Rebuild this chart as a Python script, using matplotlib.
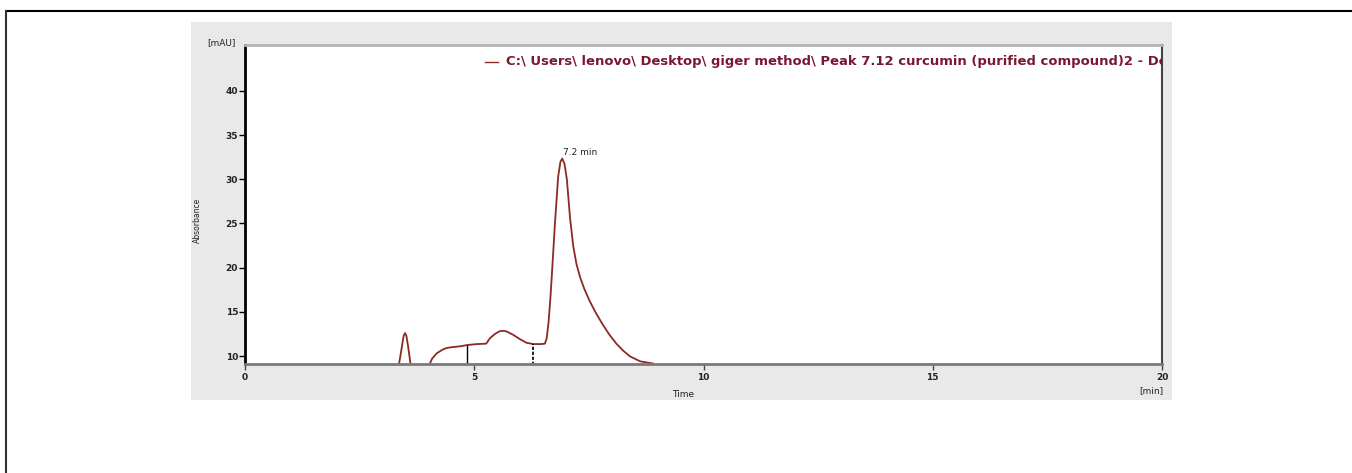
import matplotlib.pyplot as plt
from matplotlib.patches import Rectangle
from matplotlib.lines import Line2D

# small peak near 3.5 min
t_small = [3.30, 3.36, 3.42, 3.46, 3.49, 3.52, 3.56, 3.61, 3.66]
a_small = [8.5, 9.1, 11.0, 12.3, 12.6, 12.3, 11.0, 9.1, 8.5]

# main trace from 4 min to baseline after the curcumin peak
t_main = [4.02, 4.08, 4.18, 4.30, 4.39, 4.50, 4.69, 4.85, 5.05, 5.26, 5.34, 5.45,
          5.55, 5.62, 5.70, 5.85, 6.00, 6.14, 6.29, 6.45, 6.54, 6.58, 6.62, 6.66,
          6.70, 6.76, 6.83, 6.88, 6.92, 6.97, 7.02, 7.09, 7.16, 7.23, 7.31, 7.40,
          7.52, 7.65, 7.81, 7.95, 8.10, 8.25, 8.40, 8.62, 8.90]
a_main = [9.0, 9.7, 10.3, 10.7, 10.9, 11.0, 11.1, 11.25, 11.35, 11.4, 12.0, 12.5,
          12.8, 12.85, 12.8, 12.4, 11.9, 11.5, 11.36, 11.35, 11.4, 12.0, 13.8, 16.5,
          19.8, 25.0, 30.3, 32.0, 32.35, 31.7, 30.0, 25.6, 22.4, 20.4, 18.9, 17.6,
          16.2, 14.9, 13.5, 12.4, 11.4, 10.6, 9.95, 9.4, 9.15]

# integration markers
marker_t = [4.85, 6.29]
marker_top = [11.25, 11.36]

x_ticks = [0, 5, 10, 15, 20]
y_ticks = [10, 15, 20, 25, 30, 35, 40]

trace_color = '#8c2a24'
legend_text = 'C:\\ Users\\ lenovo\\ Desktop\\ giger method\\ Peak 7.12 curcumin (purified compound)2 - Detector A'

plt.rcParams['font.family'] = ['DejaVu Sans']

fig = plt.figure(figsize=(13.52, 4.73), dpi=100)
W, H = 1352, 473

def fx(px):
    return px / W

def fy(py):
    return 1 - py / H

# outer frame (top and left edge)
fig.add_artist(Line2D([fx(6), 1.0], [fy(11), fy(11)], color='black', lw=1.5))
fig.add_artist(Line2D([fx(6), fx(6)], [fy(11), 0.0], color='#333333', lw=1.5))

# grey panel behind the chromatogram
fig.add_artist(Rectangle((fx(191), fy(400)), fx(1172) - fx(191), fy(22) - fy(400),
                         facecolor='#e9e9e9', edgecolor='none', zorder=0))

ax = fig.add_axes([fx(245), fy(364), fx(1162) - fx(245), fy(45) - fy(364)])
ax.set_facecolor('white')

ax.plot(t_small, a_small, color=trace_color, lw=1.3)
ax.plot(t_main, a_main, color=trace_color, lw=1.3)
ax.vlines(marker_t[0], 9.0, marker_top[0], color='black', lw=1.0)
ax.vlines(marker_t[1], 9.0, marker_top[1], color='black', lw=1.2, linestyles=(0, (2, 1)))

ax.text(6.93, 33.0, '7.2 min', fontsize=6.5, ha='left', va='center', color='#222222')

# legend entry, clipped at right spine like the original
ax.plot([0.262, 0.276], [0.948, 0.948], transform=ax.transAxes, color=trace_color, lw=1.0,
        clip_on=False)
ax.text(0.285, 0.948, legend_text, transform=ax.transAxes, fontsize=9.45, fontweight='bold',
        color='#7a1630', ha='left', va='center', clip_on=True)

ax.set_xlim(0, 20)
ax.set_ylim(9.1, 45.2)
ax.set_xticks(x_ticks)
ax.set_yticks(y_ticks)
ax.set_xticklabels([])
ax.tick_params(axis='y', direction='out', length=4, width=1, labelsize=6.5, pad=1)
ax.tick_params(axis='x', direction='out', length=4, width=1, colors='#444444')
for lbl in ax.get_yticklabels():
    lbl.set_fontweight('bold')
    lbl.set_color('#222222')

ax.spines['left'].set_color('black')
ax.spines['left'].set_linewidth(2.0)
ax.spines['bottom'].set_color('#7a7a7a')
ax.spines['bottom'].set_linewidth(2.0)
ax.spines['right'].set_color('#444444')
ax.spines['right'].set_linewidth(1.5)
ax.spines['top'].set_color('#b5b5b5')
ax.spines['top'].set_linewidth(2.0)

# x tick labels placed under the axis
for t in x_ticks:
    xpix = 245 + t * (1162 - 245) / 20
    fig.text(fx(xpix), fy(378), str(t), fontsize=6.5, fontweight='bold', ha='center',
             va='center', color='#222222')

fig.text(fx(683), fy(394), 'Time', fontsize=6.5, ha='center', va='center', color='#222222')
fig.text(fx(1163), fy(391), '[min]', fontsize=6.5, ha='right', va='center', color='#222222')
fig.text(fx(236), fy(43), '[mAU]', fontsize=6.5, ha='right', va='center', color='#222222')
fig.text(fx(197), fy(220), 'Absorbance', fontsize=5.5, rotation=90, ha='center',
         va='center', color='#222222')

plt.savefig('out.png', dpi=100)
